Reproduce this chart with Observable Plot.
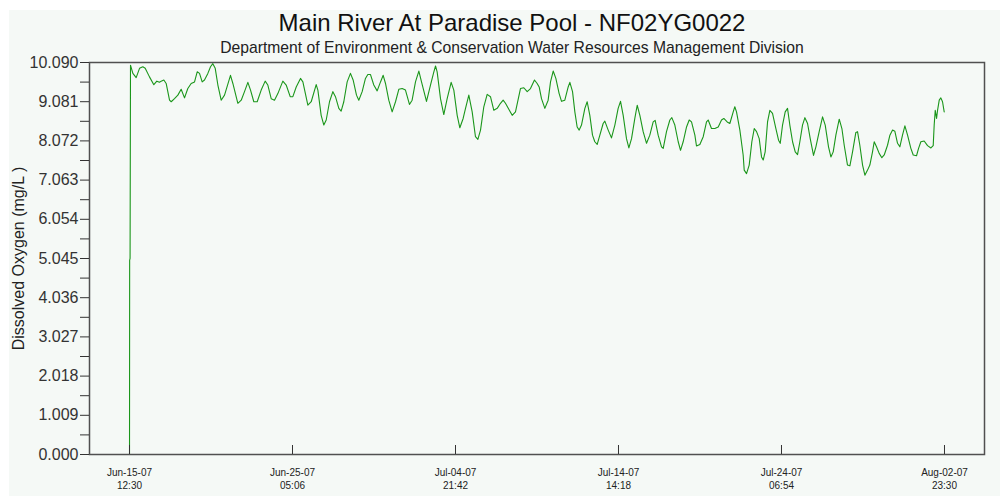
<!DOCTYPE html>
<html><head><meta charset="utf-8">
<script src="https://cdn.jsdelivr.net/npm/d3@7"></script>
<script src="https://cdn.jsdelivr.net/npm/@observablehq/plot@0.6"></script>
<style>
html,body{margin:0;padding:0;background:#fff;width:1000px;height:496px;overflow:hidden}
#chart{position:absolute;left:9px;top:10px;width:991px;height:486px;background:#f5f9f6}
svg{display:block}
</style></head><body><div id="chart"></div>
<script>
const title = "Main River At Paradise Pool - NF02YG0022";
const subtitle = "Department of Environment & Conservation Water Resources Management Division";
const yLabel = "Dissolved Oxygen (mg/L )";
const startTime = "2007-06-15T12:30:00Z";

// hours since start
const hours = [
  0, 0.2, 0.8, 1.4, 4.8, 9.5, 14.3, 19.0, 22.4, 28.5, 34.7, 39.0, 42.8, 45.2, 49.0, 52.3, 57.1, 59.5, 64.2, 69.0, 73.7, 78.5, 83.2, 88.0,
  92.8, 96.6, 99.9, 103.7, 107.0, 111.8, 115.6, 118.9, 122.3, 126.1, 130.8, 135.6, 144.1, 147.5, 154.6, 159.4, 164.1, 168.9, 172.7, 177.4,
  182.2, 187.9, 193.6, 197.4, 202.2, 206.9, 211.7, 218.8, 223.6, 229.3, 233.1, 237.9, 244.0, 247.4, 254.5, 259.3, 266.4, 268.8, 273.5, 277.3,
  280.7, 285.4, 290.2,
  293.9, 298.7, 302.0, 305.8, 310.6, 315.3, 319.1, 323.9, 327.2, 332.0, 336.7, 340.1, 343.9, 348.6, 353.4, 358.2, 362.0, 365.3, 370.0, 374.8,
  379.6, 384.3, 389.1, 393.8, 399.5, 403.3, 408.1, 412.9, 416.7, 423.8, 429.5, 434.3, 436.7, 439.0, 443.8, 448.5, 453.3, 459.0, 462.8, 467.6,
  471.4, 476.1, 479.5, 484.2, 489.0, 493.7, 497.1, 500.9, 505.6, 510.4, 515.1, 519.9, 524.7, 529.4, 533.2, 536.5, 546.1, 550.8, 557.9, 562.7,
  567.5, 572.2, 577.9, 581.7,
  584.6, 587.9, 592.7, 597.4, 600.8, 604.6, 608.4, 613.1, 616.5, 621.2, 626.0, 628.4, 632.2, 635.5, 638.8, 641.7, 645.0, 649.8, 653.1, 656.9,
  660.7, 664.0, 667.4, 671.2, 675.9, 678.3, 683.1, 687.8, 692.6, 697.3, 700.7, 704.5, 709.2, 712.6, 716.4, 721.1, 724.5, 728.3, 733.0, 737.8,
  742.5, 747.3, 750.1, 754.4, 759.2, 761.6, 766.3, 771.1, 773.9, 778.2, 783.0, 786.3, 790.1, 794.9, 798.7, 802.0, 806.8, 809.1, 813.9, 818.7,
  823.4, 825.8, 830.5, 835.3, 840.1, 844.8, 848.1, 852.9, 856.7, 861.5, 863.8, 866.2, 871.0, 875.7,
  877.2, 880.5, 884.3, 888.1, 891.5, 894.8, 898.6, 901.9, 904.3, 907.1, 910.5, 913.8, 917.6, 922.4, 926.2, 928.6, 931.9, 935.7, 939.0, 942.3,
  946.2, 950.0, 953.3, 956.6, 960.4, 963.8, 967.6, 971.4, 976.1, 979.5, 984.2, 989.0, 992.8, 997.5, 1000.9, 1004.2, 1008.0, 1012.8, 1016.6, 1019.9,
  1024.6, 1028.0, 1031.8, 1036.5, 1038.9, 1042.2, 1046.1, 1049.4, 1053.2, 1056.5, 1060.3, 1062.7, 1066.0, 1069.8, 1073.6, 1077.0, 1081.7, 1085.1, 1088.9, 1092.2,
  1096.0, 1099.3, 1103.1, 1106.5, 1110.3, 1115.0, 1118.4, 1123.1, 1126.0, 1129.3, 1134.0, 1138.8, 1143.6, 1146.9, 1148.3, 1149.8, 1151.7, 1153.1, 1155.5, 1157.8,
  1160.2, 1162.6
];
const oxygen = [
  0, 5.0, 5.05, 10.02, 9.81, 9.70, 9.94, 9.98, 9.94, 9.72, 9.52, 9.61, 9.58, 9.61, 9.64, 9.55, 9.12, 9.08, 9.16, 9.25, 9.40, 9.18, 9.42, 9.55,
  9.59, 9.85, 9.81, 9.59, 9.64, 9.81, 9.98, 10.06, 9.94, 9.51, 9.12, 9.25, 9.76, 9.55, 9.04, 9.12, 9.34, 9.58, 9.38, 9.08,
  9.08, 9.38, 9.61, 9.51, 9.16, 9.12, 9.29, 9.61, 9.51, 9.21, 9.21, 9.46, 9.68, 9.59, 8.99, 9.08, 9.52, 9.38, 8.73, 8.48,
  8.61, 9.08, 9.34,
  9.21, 8.91, 8.84, 9.08, 9.59, 9.81, 9.64, 9.25, 9.12, 9.34, 9.68, 9.78, 9.78, 9.51, 9.36, 9.59, 9.76, 9.55, 9.12, 8.82,
  9.08, 9.40, 9.42, 9.38, 9.01, 9.12, 9.59, 9.87, 9.59, 9.09, 9.51, 9.85, 10.00, 9.85, 9.16, 8.75, 9.16, 9.58, 9.38, 8.73,
  8.41, 8.65, 8.91, 9.25, 8.82, 8.18, 8.11, 8.35, 8.95, 9.27, 9.21, 8.86, 8.91, 9.04, 9.12, 9.04, 8.73, 8.82, 9.42, 9.44,
  9.34, 9.42, 9.64, 9.55,
  9.46, 9.16, 8.91, 9.12, 9.59, 9.87, 9.68, 9.29, 9.09, 9.12, 9.46, 9.58, 9.34, 8.82, 8.43, 8.35, 8.48, 8.91, 9.08, 8.73,
  8.22, 8.05, 7.98, 8.22, 8.52, 8.58, 8.35, 8.15, 8.48, 8.91, 9.09, 8.73, 8.13, 7.89, 8.13, 8.65, 8.99, 8.73, 8.31, 8.01,
  8.22, 8.56, 8.60, 8.22, 7.92, 7.88, 8.31, 8.61, 8.67, 8.48, 8.05, 7.83, 8.05, 8.43, 8.61, 8.56, 8.22, 7.94, 7.98, 8.18,
  8.56, 8.61, 8.39, 8.39, 8.43, 8.61, 8.65, 8.56, 8.52, 8.82, 8.95, 8.82, 8.35, 7.71,
  7.32, 7.23, 7.45, 8.05, 8.39, 8.31, 8.13, 7.66, 7.58, 7.79, 8.56, 8.86, 8.78, 8.39, 8.09, 8.01, 8.48, 8.82, 8.91, 8.48,
  8.05, 7.79, 7.72, 8.05, 8.48, 8.67, 8.52, 8.13, 7.70, 7.92, 8.31, 8.69, 8.48, 7.92, 7.66, 7.79, 8.22, 8.63, 8.39, 7.96,
  7.45, 7.43, 7.79, 8.29, 8.31, 7.96, 7.45, 7.19, 7.32, 7.45, 7.79, 8.05, 7.92, 7.75, 7.64, 7.71, 7.96, 8.22, 8.35, 8.32,
  8.01, 7.92, 8.22, 8.46, 8.22, 7.88, 7.71, 7.69, 7.88, 8.05, 8.07, 7.95, 7.89, 7.95, 8.48, 8.86, 8.65, 8.86, 9.12, 9.18,
  9.08, 8.82
];

const xTickHours = [0, 232.6, 465.2, 697.8, 930.4, 1163.0];
const xTickLabels = ["Jun-15-07\n12:30", "Jun-25-07\n05:06", "Jul-04-07\n21:42", "Jul-14-07\n14:18", "Jul-24-07\n06:54", "Aug-02-07\n23:30"];
const yTickValues = [0, 1.009, 2.018, 3.027, 4.036, 5.045, 6.054, 7.063, 8.072, 9.081, 10.090];
const yTickLabels = ["0.000", "1.009", "2.018", "3.027", "4.036", "5.045", "6.054", "7.063", "8.072", "9.081", "10.090"];

const t0 = new Date(startTime).getTime();
const H = 3600e3;
const toDate = h => new Date(t0 + h * H);
const data = hours.map((h, i) => ({date: toDate(h), value: oxygen[i]}));
const xTickDates = xTickHours.map(toDate);
const xLabelMap = new Map(xTickDates.map((d, i) => [+d, xTickLabels[i]]));
const yLabelMap = new Map(yTickValues.map((v, i) => [v, yTickLabels[i]]));
const yMinor = d3.pairs(yTickValues).map(([a, b]) => (a + b) / 2);
const pad = 57.1; // hours of padding on both sides of the time axis

const font = "'Liberation Sans', Arial, sans-serif";
const chart = Plot.plot({
  width: 991,
  height: 486,
  marginLeft: 80,
  marginRight: 16,
  marginTop: 52,
  marginBottom: 42,
  style: {background: "transparent", fontFamily: font, color: "#222"},
  x: {type: "utc", domain: [toDate(-pad), toDate(xTickHours[xTickHours.length - 1] + pad)]},
  y: {domain: [0, 10.09]},
  marks: [
    Plot.line(data, {x: "date", y: "value", stroke: "#1a961a", strokeWidth: 1.1}),
    Plot.frame({stroke: "#505050", strokeWidth: 1.5}),
    Plot.axisY({ticks: yTickValues, tickSize: 9, tickPadding: 2, tickFormat: d => yLabelMap.get(d), fontSize: 16, color: "#333", label: null}),
    Plot.axisY({ticks: yMinor, tickSize: 9, tickFormat: () => "", color: "#333", label: null}),
    Plot.axisX({ticks: xTickDates, tickSize: -9, tickFormat: () => "", color: "#333", label: null}),
    Plot.axisX({ticks: xTickDates, tickSize: 0, tickPadding: 12, tickFormat: d => xLabelMap.get(+d), fontSize: 10, lineHeight: 1.3, color: "#222", label: null}),
    Plot.text([yLabel], {text: d => d, frameAnchor: "left", textAnchor: "middle", rotate: -90, dx: -71, fontSize: 16, fill: "#222"}),
    Plot.text([title], {text: d => d, frameAnchor: "top", dx: -25, dy: -32, lineAnchor: "bottom", fontSize: 24, fill: "#111"}),
    Plot.text([subtitle], {text: d => d, frameAnchor: "top", dx: -25, dy: -10, lineAnchor: "bottom", fontSize: 15.7, fill: "#222"})
  ]
});
document.getElementById("chart").appendChild(chart);
</script></body></html>
